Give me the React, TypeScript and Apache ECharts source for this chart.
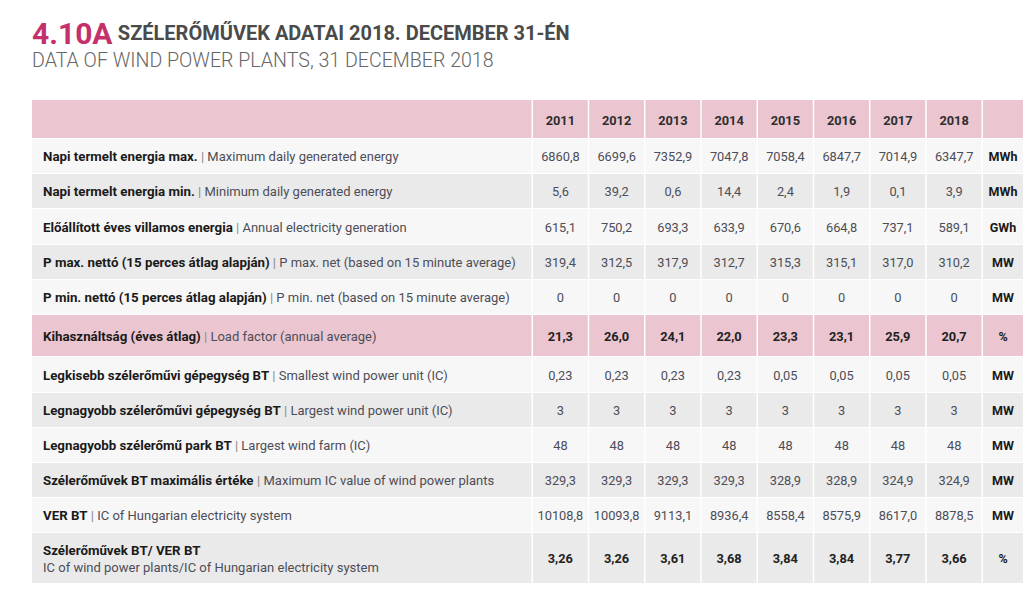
import React, { useEffect, useRef } from "react";
import * as echarts from "echarts";

const titleNumber = "4.10A";
const titleHu = "SZÉLERŐMŰVEK ADATAI 2018. DECEMBER 31-ÉN";
const titleEn = "DATA OF WIND POWER PLANTS, 31 DECEMBER 2018";

const years = ["2011", "2012", "2013", "2014", "2015", "2016", "2017", "2018"];

const labelsHu = [
  "Napi termelt energia max.",
  "Napi termelt energia min.",
  "Előállított éves villamos energia",
  "P max. nettó (15 perces átlag alapján)",
  "P min. nettó (15 perces átlag alapján)",
  "Kihasználtság (éves átlag)",
  "Legkisebb szélerőművi gépegység BT",
  "Legnagyobb szélerőművi gépegység BT",
  "Legnagyobb szélerőmű park BT",
  "Szélerőművek BT maximális értéke",
  "VER BT",
  "Szélerőművek BT/ VER BT",
];
const labelsEn = [
  "Maximum daily generated energy",
  "Minimum daily generated energy",
  "Annual electricity generation",
  "P max. net (based on 15 minute average)",
  "P min. net (based on 15 minute average)",
  "Load factor (annual average)",
  "Smallest wind power unit (IC)",
  "Largest wind power unit (IC)",
  "Largest wind farm (IC)",
  "Maximum IC value of wind power plants",
  "IC of Hungarian electricity system",
  "IC of wind power plants/IC of Hungarian electricity system",
];
const units = ["MWh", "MWh", "GWh", "MW", "MW", "%", "MW", "MW", "MW", "MW", "MW", "%"];
const decimals = [1, 1, 1, 1, 0, 1, 2, 0, 0, 1, 1, 2];

const dailyMax = [6860.8, 6699.6, 7352.9, 7047.8, 7058.4, 6847.7, 7014.9, 6347.7];
const dailyMin = [5.6, 39.2, 0.6, 14.4, 2.4, 1.9, 0.1, 3.9];
const annualGen = [615.1, 750.2, 693.3, 633.9, 670.6, 664.8, 737.1, 589.1];
const pMaxNet = [319.4, 312.5, 317.9, 312.7, 315.3, 315.1, 317.0, 310.2];
const pMinNet = [0, 0, 0, 0, 0, 0, 0, 0];
const loadFactor = [21.3, 26.0, 24.1, 22.0, 23.3, 23.1, 25.9, 20.7];
const smallestUnit = [0.23, 0.23, 0.23, 0.23, 0.05, 0.05, 0.05, 0.05];
const largestUnit = [3, 3, 3, 3, 3, 3, 3, 3];
const largestFarm = [48, 48, 48, 48, 48, 48, 48, 48];
const maxIC = [329.3, 329.3, 329.3, 329.3, 328.9, 328.9, 324.9, 324.9];
const verIC = [10108.8, 10093.8, 9113.1, 8936.4, 8558.4, 8575.9, 8617.0, 8878.5];
const windShare = [3.26, 3.26, 3.61, 3.68, 3.84, 3.84, 3.77, 3.66];

const rowsValues = [
  dailyMax, dailyMin, annualGen, pMaxNet, pMinNet, loadFactor,
  smallestUnit, largestUnit, largestFarm, maxIC, verIC, windShare,
];
const highlightRows = [5, 11]; // bold rows
const pinkRows = [5];

const fmt = (v: number, d: number) => v.toFixed(d).replace(".", ",");

export default function App() {
  const ref = useRef<HTMLDivElement>(null);
  useEffect(() => {
    document.body.style.margin = "0";
    const chart = echarts.init(ref.current!, null, { renderer: "svg" });
    const FONT = "Roboto, 'Noto Sans', sans-serif";
    const PINK = "#ebc6d0";
    const LIGHT = "#f7f7f7";
    const GREY = "#eaeaea";

    // layout
    const tableX0 = 32;
    const labelX1 = 533;
    const colW = 56.25;
    const unitX1 = 1023;
    const headerTop = 100;
    const headerH = 39;
    const rowHeights = [35, 35, 36, 35, 35, 42, 36, 35, 35, 35, 35, 51];

    const colX: number[] = years.map((_, i) => labelX1 + i * colW);
    const unitX0 = labelX1 + years.length * colW;

    const els: any[] = [];

    // title
    els.push({
      type: "text",
      x: 32,
      y: 48,
      style: {
        text: `{n|${titleNumber}} {t|${titleHu}}`,
        verticalAlign: "bottom",
        rich: {
          n: { fontFamily: FONT, fontSize: 30, fontWeight: "bold", fill: "#c4306a" },
          t: { fontFamily: FONT, fontSize: 20, fontWeight: "bold", fill: "#4a4a4a", padding: [0, 0, 1, 2] },
        },
      },
    });
    els.push({
      type: "text",
      x: 32,
      y: 60,
      style: {
        text: titleEn,
        fontFamily: FONT,
        fontSize: 19.6,
        fontWeight: 300,
        fill: "#666666",
        verticalAlign: "middle",
      },
    });

    const cellRect = (x0: number, x1: number, y0: number, h: number, fill: string) => ({
      type: "rect",
      shape: { x: x0, y: y0, width: x1 - x0 - 1.5, height: h - 1 },
      style: { fill },
      silent: true,
    });

    // header row
    els.push(cellRect(tableX0, labelX1, headerTop, headerH, PINK));
    years.forEach((yr, i) => {
      els.push(cellRect(colX[i], colX[i] + colW, headerTop, headerH, PINK));
      els.push({
        type: "text",
        x: colX[i] + colW / 2 - 0.75,
        y: headerTop + headerH / 2 + 1,
        style: {
          text: yr, fontFamily: FONT, fontSize: 12.8, fontWeight: "bold", fill: "#2e2e2e",
          align: "center", verticalAlign: "middle",
        },
      });
    });
    els.push(cellRect(unitX0, unitX1 + 1.5, headerTop, headerH, PINK));

    // body rows
    let y = headerTop + headerH;
    rowsValues.forEach((vals, r) => {
      const h = rowHeights[r];
      const fill = pinkRows.includes(r) ? PINK : r % 2 === 0 ? LIGHT : GREY;
      const bold = highlightRows.includes(r);
      const cy = y + h / 2;
      els.push(cellRect(tableX0, labelX1, y, h, fill));
      vals.forEach((v, i) => {
        els.push(cellRect(colX[i], colX[i] + colW, y, h, fill));
        els.push({
          type: "text",
          x: colX[i] + colW / 2 - 0.75,
          y: cy,
          style: {
            text: fmt(v, decimals[r]), fontFamily: FONT, fontSize: 12.8,
            fontWeight: bold ? "bold" : "normal", fill: bold ? "#222222" : "#4d4d57",
            align: "center", verticalAlign: "middle",
          },
        });
      });
      els.push(cellRect(unitX0, unitX1 + 1.5, y, h, fill));
      els.push({
        type: "text",
        x: (unitX0 + unitX1) / 2,
        y: cy,
        style: {
          text: units[r], fontFamily: FONT, fontSize: 12.5, fontWeight: "bold", fill: "#1a1a1a",
          align: "center", verticalAlign: "middle",
        },
      });
      const twoLine = r === rowsValues.length - 1;
      const labelText = twoLine
        ? `{b|${labelsHu[r]}}\n{r|${labelsEn[r]}}`
        : `{b|${labelsHu[r]}}{s| | }{r|${labelsEn[r]}}`;
      els.push({
        type: "text",
        x: 43,
        y: cy,
        style: {
          text: labelText,
          verticalAlign: "middle",
          rich: {
            b: { fontFamily: FONT, fontSize: 13.3, fontWeight: "bold", fill: "#1a1a1a", lineHeight: 17 },
            s: { fontFamily: FONT, fontSize: 13, fill: "#888888", lineHeight: 17 },
            r: { fontFamily: FONT, fontSize: 13, fill: "#4d4d57", lineHeight: 17 },
          },
        },
      });
      y += h;
    });

    chart.setOption({
      animation: false,
      backgroundColor: "#ffffff",
      graphic: { elements: els },
    });
    return () => chart.dispose();
  }, []);
  return <div ref={ref} style={{ width: 1031, height: 601 }} />;
}
